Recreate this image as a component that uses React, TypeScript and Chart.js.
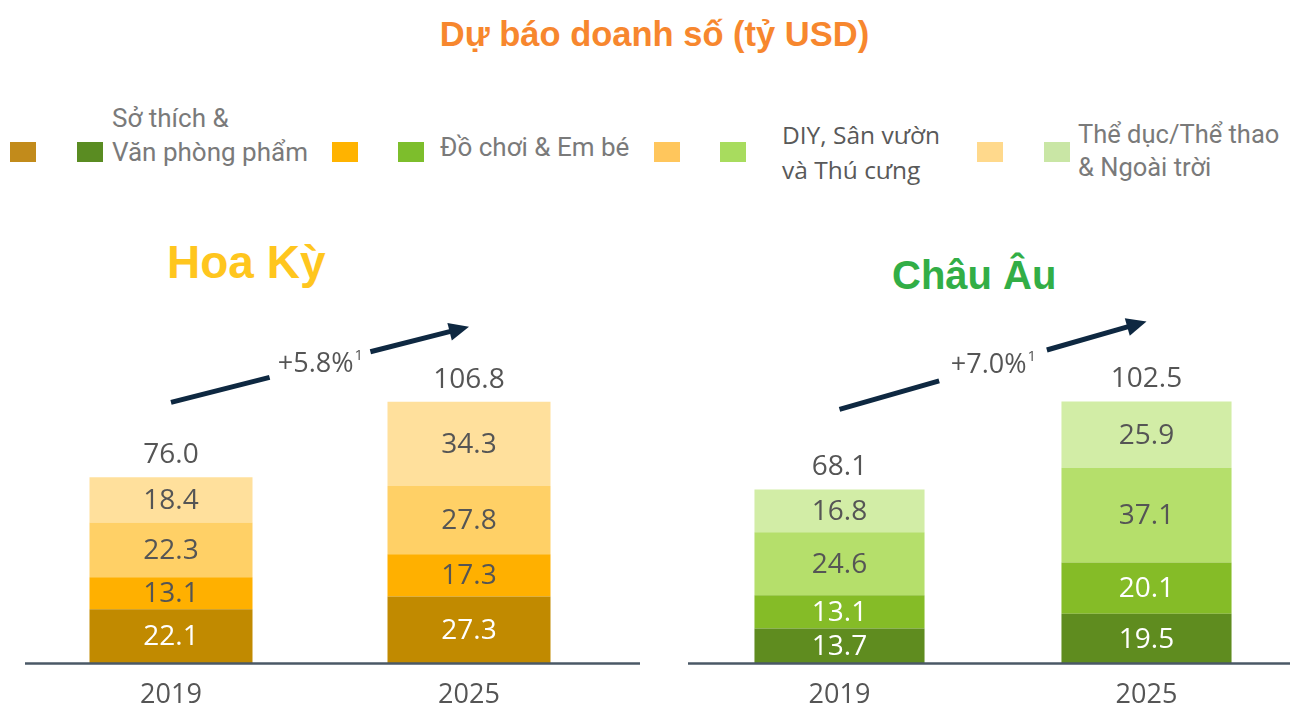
import React, { useEffect, useRef } from 'react';
import { Chart, registerables } from 'chart.js';

Chart.register(...registerables);

// ---------- DATA ----------
const years = ['2019', '2025'];
const categoryNames = [
  'Sở thích & Văn phòng phẩm',
  'Đồ chơi & Em bé',
  'DIY, Sân vườn và Thú cưng',
  'Thể dục/Thể thao & Ngoài trời',
];
// Hoa Kỳ
const usHobby = [22.1, 27.3];
const usToys = [13.1, 17.3];
const usDiy = [22.3, 27.8];
const usSport = [18.4, 34.3];
const usTotals = [76.0, 106.8];
const usGrowth = '+5.8%';
// Châu Âu
const euHobby = [13.7, 19.5];
const euToys = [13.1, 20.1];
const euDiy = [24.6, 37.1];
const euSport = [16.8, 25.9];
const euTotals = [68.1, 102.5];
const euGrowth = '+7.0%';

// ---------- STYLE ----------
const usColors = ['#C18A00', '#FFB000', '#FFD066', '#FFE09C'];
const euColors = ['#5F8C1F', '#85BC27', '#B5DF6B', '#D2EDA6'];
const usLabelColors = ['#FFFFFF', '#555555', '#555555', '#555555'];
const euLabelColors = ['#FFFFFF', '#FFFFFF', '#555555', '#555555'];

const annotatePlugin = {
  id: 'annotate',
  afterDatasetsDraw(chart: any, _args: any, opts: any) {
    const ctx = chart.ctx as CanvasRenderingContext2D;
    const n = chart.data.datasets.length;
    ctx.save();
    // segment value labels
    ctx.font = '28px "Open Sans"';
    ctx.textAlign = 'center';
    ctx.textBaseline = 'middle';
    chart.data.datasets.forEach((ds: any, i: number) => {
      const meta = chart.getDatasetMeta(i);
      meta.data.forEach((el: any, j: number) => {
        const p = el.getProps(['x', 'y', 'base'], true);
        ctx.fillStyle = opts.labelColors[i];
        ctx.fillText(Number(ds.data[j]).toFixed(1), p.x, (p.y + p.base) / 2 + 1);
      });
    });
    // totals
    const tops = chart.getDatasetMeta(n - 1).data.map((el: any) => el.getProps(['x', 'y'], true));
    ctx.fillStyle = '#555555';
    tops.forEach((p: any, j: number) => {
      ctx.fillText(opts.totals[j].toFixed(1), p.x, p.y - 22);
    });
    // baseline
    const yb = chart.scales.y.getPixelForValue(0);
    ctx.strokeStyle = '#4A5866';
    ctx.lineWidth = 2.5;
    ctx.beginPath();
    ctx.moveTo(chart.chartArea.left + opts.baseExt[0], yb);
    ctx.lineTo(chart.chartArea.right + opts.baseExt[1], yb);
    ctx.stroke();
    // growth arrow
    const x0 = tops[0].x, y0 = tops[0].y - opts.arrowOffset;
    const x1 = tops[1].x, y1 = tops[1].y - opts.arrowOffset;
    const dx = x1 - x0, dy = y1 - y0;
    const len = Math.hypot(dx, dy);
    const ux = dx / len, uy = dy / len;
    const mx = (x0 + x1) / 2, my = (y0 + y1) / 2;
    const g = opts.gap;
    const head = 20, hw = 9;
    ctx.strokeStyle = '#0E2841';
    ctx.fillStyle = '#0E2841';
    ctx.lineWidth = 5;
    ctx.lineCap = 'butt';
    ctx.beginPath();
    ctx.moveTo(x0, y0);
    ctx.lineTo(mx - ux * g, my - uy * g);
    ctx.moveTo(mx + ux * g, my + uy * g);
    ctx.lineTo(x1 - ux * (head - 2), y1 - uy * (head - 2));
    ctx.stroke();
    ctx.beginPath();
    ctx.moveTo(x1, y1);
    ctx.lineTo(x1 - ux * head - uy * hw, y1 - uy * head + ux * hw);
    ctx.lineTo(x1 - ux * head + uy * hw, y1 - uy * head - ux * hw);
    ctx.closePath();
    ctx.fill();
    // growth text
    ctx.font = '27px "Open Sans"';
    const w1 = ctx.measureText(opts.growth).width;
    ctx.font = '15px "Open Sans"';
    const w2 = ctx.measureText('1').width;
    const startX = mx - (w1 + w2) / 2;
    ctx.fillStyle = '#555555';
    ctx.textAlign = 'left';
    ctx.font = '27px "Open Sans"';
    ctx.fillText(opts.growth, startX, my);
    ctx.font = '15px "Open Sans"';
    ctx.fillText('1', startX + w1 + 1, my - 9);
    ctx.restore();
  },
};

type PanelProps = {
  left: number;
  top: number;
  width: number;
  height: number;
  padLeft: number;
  padRight: number;
  series: number[][];
  colors: string[];
  labelColors: string[];
  totals: number[];
  growth: string;
  yMax: number;
  barPct: number;
  arrowOffset: number;
  gap: number;
  baseExt: number[];
};

function Panel(props: PanelProps) {
  const ref = useRef<HTMLCanvasElement>(null);
  useEffect(() => {
    if (!ref.current) return;
    const chart = new Chart(ref.current, {
      type: 'bar',
      data: {
        labels: years,
        datasets: props.series.map((s, i) => ({
          label: categoryNames[i],
          data: s,
          backgroundColor: props.colors[i],
          borderWidth: 0,
          categoryPercentage: 1,
          barPercentage: props.barPct,
        })),
      },
      options: {
        responsive: false,
        animation: false,
        layout: { padding: { left: props.padLeft, right: props.padRight, top: 0, bottom: 0 } },
        plugins: {
          legend: { display: false },
          tooltip: { enabled: false },
          title: { display: false },
          annotate: {
            labelColors: props.labelColors,
            totals: props.totals,
            growth: props.growth,
            arrowOffset: props.arrowOffset,
            gap: props.gap,
            baseExt: props.baseExt,
          },
        } as any,
        scales: {
          x: {
            stacked: true,
            grid: { display: false, drawTicks: false },
            border: { display: false },
            ticks: { color: '#555555', font: { family: 'Open Sans', size: 27 }, padding: 16 },
          },
          y: {
            stacked: true,
            display: false,
            min: 0,
            max: props.yMax,
          },
        },
      },
      plugins: [annotatePlugin],
    });
    return () => chart.destroy();
  }, []);
  return (
    <canvas
      ref={ref}
      width={props.width}
      height={props.height}
      style={{ position: 'absolute', left: props.left, top: props.top, width: props.width, height: props.height }}
    />
  );
}

const sq = (left: number, color: string) => (
  <div style={{ position: 'absolute', left, top: 142, width: 26, height: 20, background: color }} />
);

export default function App() {
  const legendText: React.CSSProperties = {
    position: 'absolute',
    fontFamily: 'Roboto, "Liberation Sans", sans-serif',
    fontSize: 26,
    color: '#7A7A7A',
    whiteSpace: 'pre',
  };
  return (
    <div
      style={{
        position: 'absolute',
        left: 0,
        top: 0,
        width: 1301,
        height: 708,
        background: '#FFFFFF',
        overflow: 'hidden',
      }}
    >
      <div
        style={{
          position: 'absolute',
          left: 0,
          width: 1301,
          top: 12,
          textAlign: 'center',
          fontFamily: '"Liberation Sans", Arial, sans-serif',
          fontWeight: 700,
          fontSize: 34.5,
          lineHeight: '44px',
          color: '#F7872E',
          paddingLeft: 8,
          boxSizing: 'border-box',
        }}
      >
        Dự báo doanh số (tỷ USD)
      </div>

      {sq(10, '#C28B1B')}
      {sq(77, '#5A8C22')}
      <div style={{ ...legendText, left: 112, top: 101, lineHeight: '34px' }}>{'Sở thích &\nVăn phòng phẩm'}</div>
      {sq(332, '#FFB300')}
      {sq(398, '#7DBE2C')}
      <div style={{ ...legendText, left: 440, top: 130, lineHeight: '34px' }}>Đồ chơi &amp; Em bé</div>
      {sq(654, '#FFC65C')}
      {sq(720, '#A8DC5E')}
      <div
        style={{
          ...legendText,
          left: 782,
          top: 117,
          lineHeight: '35px',
          fontFamily: '"Open Sans", sans-serif',
          fontSize: 24.5,
          color: '#595959',
        }}
      >
        {'DIY, Sân vườn\nvà Thú cưng'}
      </div>
      {sq(977, '#FFD98C')}
      {sq(1044, '#C9E6A5')}
      <div style={{ ...legendText, left: 1078, top: 118, lineHeight: '33px', fontSize: 25.5 }}>{'Thể dục/Thể thao\n& Ngoài trời'}</div>

      <div
        style={{
          position: 'absolute',
          left: 167,
          top: 236,
          fontFamily: '"Liberation Sans", Arial, sans-serif',
          fontWeight: 700,
          fontSize: 46,
          lineHeight: '52px',
          color: '#FFC61E',
        }}
      >
        Hoa Kỳ
      </div>
      <div
        style={{
          position: 'absolute',
          left: 892,
          top: 252,
          fontFamily: '"Liberation Sans", Arial, sans-serif',
          fontWeight: 700,
          fontSize: 40,
          lineHeight: '46px',
          color: '#32AE46',
        }}
      >
        Châu Âu
      </div>

      <Panel
        left={0}
        top={308}
        width={650}
        height={420}
        padLeft={22}
        padRight={32}
        series={[usHobby, usToys, usDiy, usSport]}
        colors={usColors}
        labelColors={usLabelColors}
        totals={usTotals}
        growth={usGrowth}
        yMax={144.9}
        barPct={0.547}
        arrowOffset={75}
        gap={52}
        baseExt={[3, 22]}
      />
      <Panel
        left={650}
        top={308}
        width={651}
        height={420}
        padLeft={36}
        padRight={1}
        series={[euHobby, euToys, euDiy, euSport]}
        colors={euColors}
        labelColors={euLabelColors}
        totals={euTotals}
        growth={euGrowth}
        yMax={139.2}
        barPct={0.554}
        arrowOffset={80}
        gap={56}
        baseExt={[2, -10]}
      />
    </div>
  );
}
